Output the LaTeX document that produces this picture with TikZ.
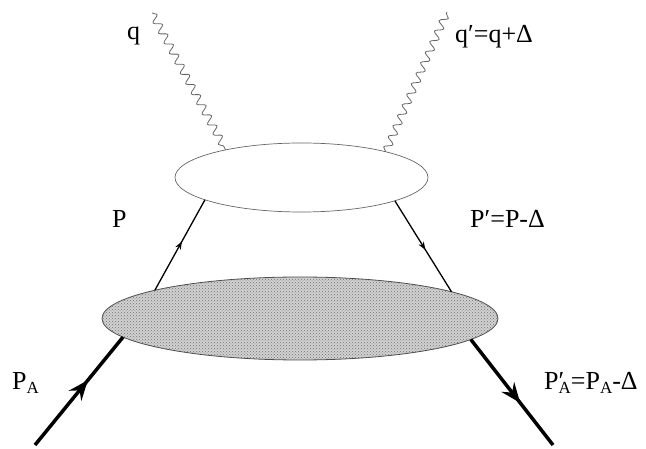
\documentclass[tikz,border=0pt]{standalone}
\usepackage{fontspec}
\setmainfont{Liberation Serif}
\usetikzlibrary{positioning, arrows.meta, shapes.geometric, decorations.pathmorphing, decorations.markings, patterns}

\newcommand{\subA}{\raisebox{-0.35ex}{\fontsize{17}{17}\selectfont A}}

\begin{document}
\begin{tikzpicture}[
    x=1pt, y=-1pt,
    every node/.style={font=\fontsize{26}{30}\selectfont},
    % hard scattering part: open blob
    hardblob/.style={draw=black!60, ellipse, line width=0.7pt, minimum width=253pt,
                     minimum height=69pt, inner sep=0pt, outer sep=0pt},
    % soft part: dotted blob
    softblob/.style={draw=black!70, ellipse, line width=0.8pt, fill=black!18,
                     postaction={pattern=crosshatch dots, pattern color=black!55},
                     minimum width=396pt, minimum height=83pt, inner sep=0pt, outer sep=0pt},
    % wavy photon lines
    photon/.style={decorate, decoration={snake, segment length=11.5pt, amplitude=3.8pt},
                   draw=black!60, line width=0.8pt},
    % thin parton lines, small arrow half way
    parton/.style={line width=1.3pt, postaction={decorate},
                   decoration={markings, mark=at position 0.54 with {\arrow{Stealth[length=8pt, width=6pt]}}}},
    % thick hadron lines, big arrow half way
    hadron/.style={line width=3.5pt, postaction={decorate},
                   decoration={markings, mark=at position 0.6 with {\arrow{Stealth[length=20pt, width=16pt, inset=7pt]}}}},
    lbl/.style={inner sep=0pt, anchor=base west}
]
\useasboundingbox (0,0) rectangle (646,449);

\node[hardblob] (hard) at (301.5,177.5) {};
\node[softblob] (soft) at (300,318.5) {};

\coordinate (qin)  at (152,13);
\coordinate (qout) at (447,12);
\coordinate (pin)  at (35,445);
\coordinate (pout) at (553,445);

\draw[photon] (qin) -- (hard.160.7);
\draw[photon] (hard.17.8) -- (qout);

\draw[parton] (soft.169.3) -- (hard.193.1);
\draw[parton] (hard.346.7) -- (soft.10.55);

\draw[hadron] (pin) -- (soft.186.5);
\draw[hadron] (soft.353.5) -- (pout);

\node[lbl] (lq)   at (127,40)  {q};
\node[lbl] (lqp)  at (455,43)  {q′=q+Δ};
\node[lbl] (lp)   at (112,228) {P};
\node[lbl] (lpp)  at (470,228) {P′=P-Δ};
\node[lbl] (lpa)  at (12,389)  {P\subA};
\node[lbl] (lpap) at (544,389) {P\rlap{′}\subA=P\subA-Δ};

\end{tikzpicture}
\end{document}
